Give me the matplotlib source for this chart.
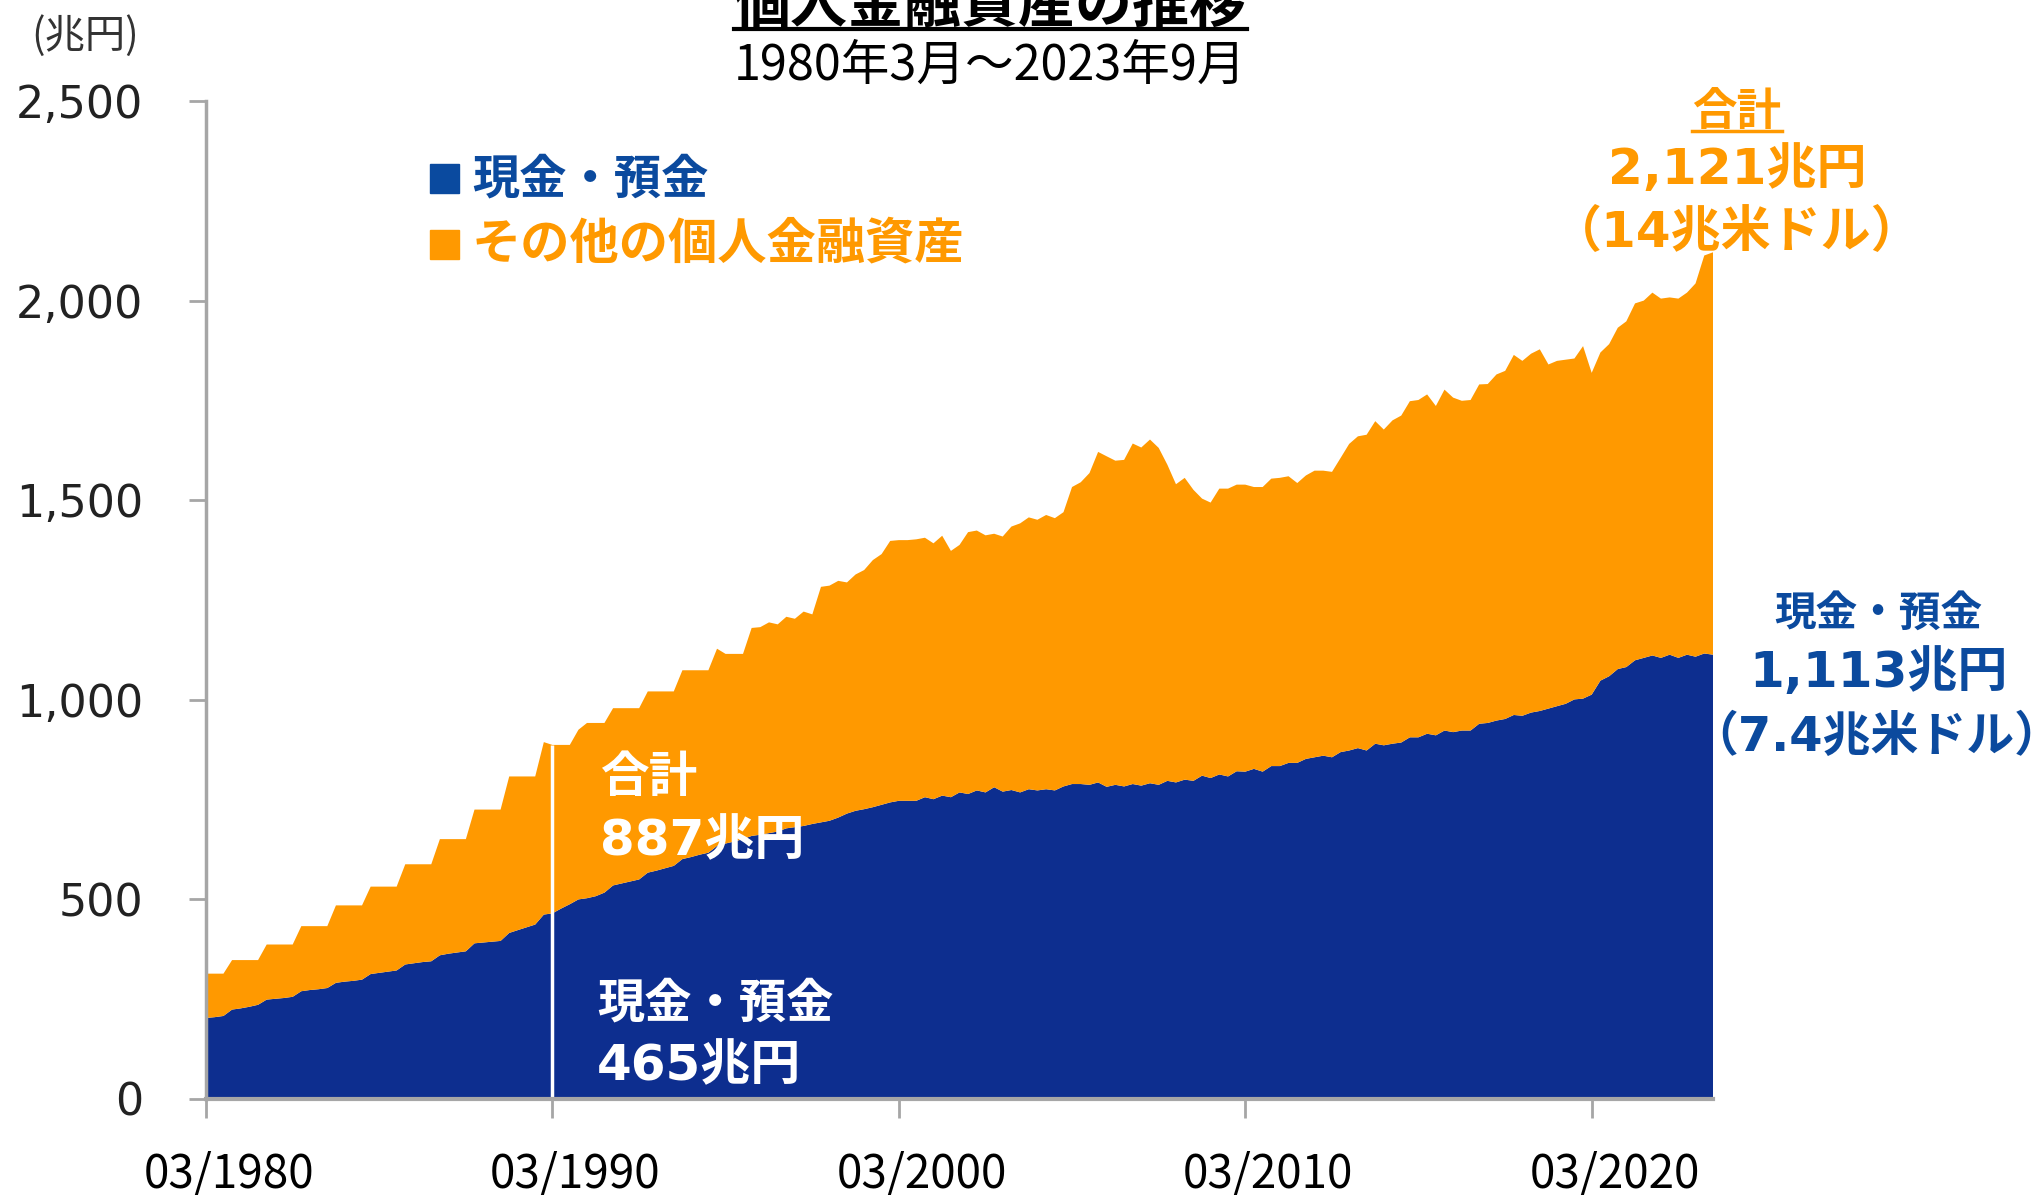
import matplotlib
matplotlib.use("Agg")
import matplotlib.pyplot as plt
import matplotlib.dates as mdates
from matplotlib.lines import Line2D
from matplotlib.patches import Rectangle
from matplotlib.ticker import FuncFormatter
from matplotlib.transforms import ScaledTranslation
import pandas as pd

# 個人金融資産 (兆円), quarterly from 03/1980 to 09/2023 — one row per year: Mar, Jun, Sep, Dec
total = [
    314, 314, 314, 348,
    348, 348, 348, 387,
    387, 387, 387, 433,
    433, 433, 433, 485,
    485, 485, 485, 532,
    532, 532, 532, 588,
    588, 588, 588, 651,
    651, 651, 651, 725,
    725, 725, 725, 808,
    808, 808, 808, 894,
    887, 887, 887, 925,
    942, 942, 942, 979,
    979, 979, 979, 1021,
    1021, 1021, 1021, 1074,
    1074, 1074, 1074, 1128,
    1115, 1115, 1115, 1180,
    1182, 1194, 1189, 1208,
    1203, 1221, 1214, 1283,
    1286, 1298, 1294, 1314,
    1325, 1350, 1365, 1398,
    1400, 1400, 1402, 1406,
    1392, 1411, 1373, 1388,
    1420, 1424, 1412, 1416,
    1409, 1434, 1442, 1457,
    1451, 1463, 1455, 1470,
    1533, 1545, 1568, 1621,
    1610, 1599, 1601, 1642,
    1632, 1652, 1631, 1589,
    1540, 1556, 1526, 1504,
    1494, 1529, 1529, 1539,
    1539, 1533, 1533, 1554,
    1556, 1560, 1543, 1562,
    1574, 1574, 1571, 1606,
    1641, 1660, 1664, 1698,
    1677, 1700, 1712, 1748,
    1751, 1765, 1736, 1777,
    1757, 1749, 1751, 1790,
    1791, 1815, 1824, 1864,
    1849, 1867, 1878, 1840,
    1849, 1852, 1855, 1886,
    1819, 1870, 1891, 1932,
    1948, 1993, 2000, 2020,
    2005, 2008, 2005, 2020,
    2043, 2113, 2121,
]

# 現金・預金 (兆円), same quarters
cash = [
    203, 205, 208, 224,
    227, 231, 236, 249,
    251, 253, 256, 270,
    273, 275, 278, 291,
    294, 296, 299, 313,
    316, 319, 322, 337,
    340, 343, 345, 360,
    364, 367, 370, 390,
    392, 394, 396, 416,
    423, 430, 437, 462,
    465, 477, 488, 500,
    503, 508, 517, 535,
    540, 545, 550, 567,
    572, 578, 584, 601,
    606, 612, 617, 634,
    640, 645, 651, 659,
    662, 666, 670, 678,
    681, 684, 689, 693,
    697, 705, 715, 722,
    726, 731, 737, 743,
    747, 747, 747, 756,
    751, 760, 756, 768,
    764, 773, 768, 781,
    770, 774, 768, 776,
    773, 776, 773, 783,
    789, 789, 787, 793,
    782, 787, 783, 789,
    785, 791, 787, 797,
    793, 800, 797, 810,
    804, 813, 808, 821,
    820, 827, 820, 834,
    834, 842, 842, 852,
    856, 860, 856, 869,
    873, 879, 873, 890,
    886, 890, 893, 906,
    906, 915, 911, 923,
    919, 923, 923, 940,
    942, 948, 952, 962,
    960, 968, 972, 978,
    984, 990, 1001, 1003,
    1013, 1048, 1059, 1077,
    1082, 1099, 1105, 1111,
    1105, 1113, 1105, 1113,
    1108, 1116, 1113,
]

tick_years = [1980, 1990, 2000, 2010, 2020]
marked_year = 1990

dates = pd.date_range("1980-03-01", periods=len(total), freq="QS-MAR")
other = [t - c for t, c in zip(total, cash)]

W, H = 2044, 1195
BLUE = "#0D2E8F"
ORANGE = "#FF9900"
TEXT_BLUE = "#0B4A9E"
GRAY = "#A6A6A6"
CJK = "Noto Sans CJK JP"
MIX = ["DejaVu Sans", "Noto Sans CJK JP"]


def fx(x):
    return x / W


def fy(y):
    return 1 - y / H


fig = plt.figure(figsize=(W / 100, H / 100), dpi=100)
ax = fig.add_axes([fx(206), fy(1099), fx(1713 - 206), (1099 - 101) / H])

ax.stackplot(dates, cash, other, colors=[BLUE, ORANGE], linewidth=0, antialiased=True)

# white marker line at 03/1990
i_mark = dates.get_loc(pd.Timestamp(f"{marked_year}-03-01"))
ax.vlines(dates[i_mark], 0, total[i_mark], color="white", lw=2.5, zorder=3)

ax.set_xlim(dates[0], dates[-1])
ax.set_ylim(0, 2500)
ax.set_yticks(range(0, 2501, 500))
ax.yaxis.set_major_formatter(FuncFormatter(lambda v, p: f"{int(v):,}"))
ax.set_xticks([pd.Timestamp(f"{y}-03-01") for y in tick_years])
ax.xaxis.set_major_formatter(mdates.DateFormatter("%m/%Y"))

for side in ["top", "right"]:
    ax.spines[side].set_visible(False)
ax.spines["left"].set_color(GRAY)
ax.spines["left"].set_linewidth(2.5)
ax.spines["bottom"].set_color(GRAY)
ax.spines["bottom"].set_linewidth(3)
ax.spines["bottom"].set_zorder(4)

ax.tick_params(axis="y", length=12, width=2, color=GRAY, pad=33,
               labelsize=32, labelcolor="#222222")
ax.tick_params(axis="x", length=14, width=2, color=GRAY, pad=23,
               labelsize=33, labelcolor="black")
# the labels sit a little to the right of their ticks
shift = ScaledTranslation(0.23, 0, fig.dpi_scale_trans)
for lab in ax.get_xticklabels():
    lab.set_family(CJK)
    lab.set_transform(lab.get_transform() + shift)

# unit and title
fig.text(fx(85), fy(36), "(兆円)", fontsize=29, color="#333333",
         ha="center", va="center", family=CJK)
fig.text(fx(990), fy(22), "個人金融資産の推移", fontsize=41, weight="bold",
         ha="center", va="baseline", family=CJK)
fig.add_artist(Line2D([fx(734), fx(1247)], [fy(29), fy(29)], color="black", lw=3))
fig.text(fx(990), fy(66), "1980年3月～2023年9月", fontsize=35,
         ha="center", va="center", family=CJK)

# legend
fig.add_artist(Rectangle((fx(430), fy(193)), 29 / W, 29 / H,
                         transform=fig.transFigure, color="#0A4A9F"))
fig.text(fx(472), fy(179), "現金・預金", fontsize=34, weight="bold",
         color=TEXT_BLUE, ha="left", va="center", family=CJK)
fig.add_artist(Rectangle((fx(430), fy(259)), 29 / W, 29 / H,
                         transform=fig.transFigure, color=ORANGE))
fig.text(fx(472), fy(244), "その他の個人金融資産", fontsize=35.5, weight="bold",
         color=ORANGE, ha="left", va="center", family=CJK)

# right-hand totals
fig.text(fx(1737), fy(112), "合計", fontsize=32, weight="bold",
         color=ORANGE, ha="center", va="center", family=CJK)
fig.add_artist(Line2D([fx(1692), fx(1782)], [fy(131), fy(131)], color=ORANGE, lw=2.5))
fig.text(fx(1737), fy(170), f"{total[-1]:,}兆円", fontsize=36, weight="bold",
         color=ORANGE, ha="center", va="center", family=MIX)
fig.text(fx(1737), fy(233), "（14兆米ドル）", fontsize=36, weight="bold",
         color=ORANGE, ha="center", va="center", family=MIX)

fig.text(fx(1878), fy(614), "現金・預金", fontsize=30, weight="bold",
         color=TEXT_BLUE, ha="center", va="center", family=CJK)
fig.text(fx(1878), fy(673), f"{cash[-1]:,}兆円", fontsize=36, weight="bold",
         color=TEXT_BLUE, ha="center", va="center", family=MIX)
fig.text(fx(1876), fy(737), "（7.4兆米ドル）", fontsize=34.5, weight="bold",
         color=TEXT_BLUE, ha="center", va="center", family=MIX)

# white labels at 03/1990
fig.text(fx(600), fy(778), "合計", fontsize=35, weight="bold",
         color="white", ha="left", va="center", family=CJK)
fig.text(fx(600), fy(841), f"{total[i_mark]}兆円", fontsize=36, weight="bold",
         color="white", ha="left", va="center", family=MIX)
fig.text(fx(597), fy(1003), "現金・預金", fontsize=34, weight="bold",
         color="white", ha="left", va="center", family=CJK)
fig.text(fx(597), fy(1066), f"{cash[i_mark]}兆円", fontsize=36, weight="bold",
         color="white", ha="left", va="center", family=MIX)

fig.savefig("out.png", dpi=100)
plt.close(fig)
